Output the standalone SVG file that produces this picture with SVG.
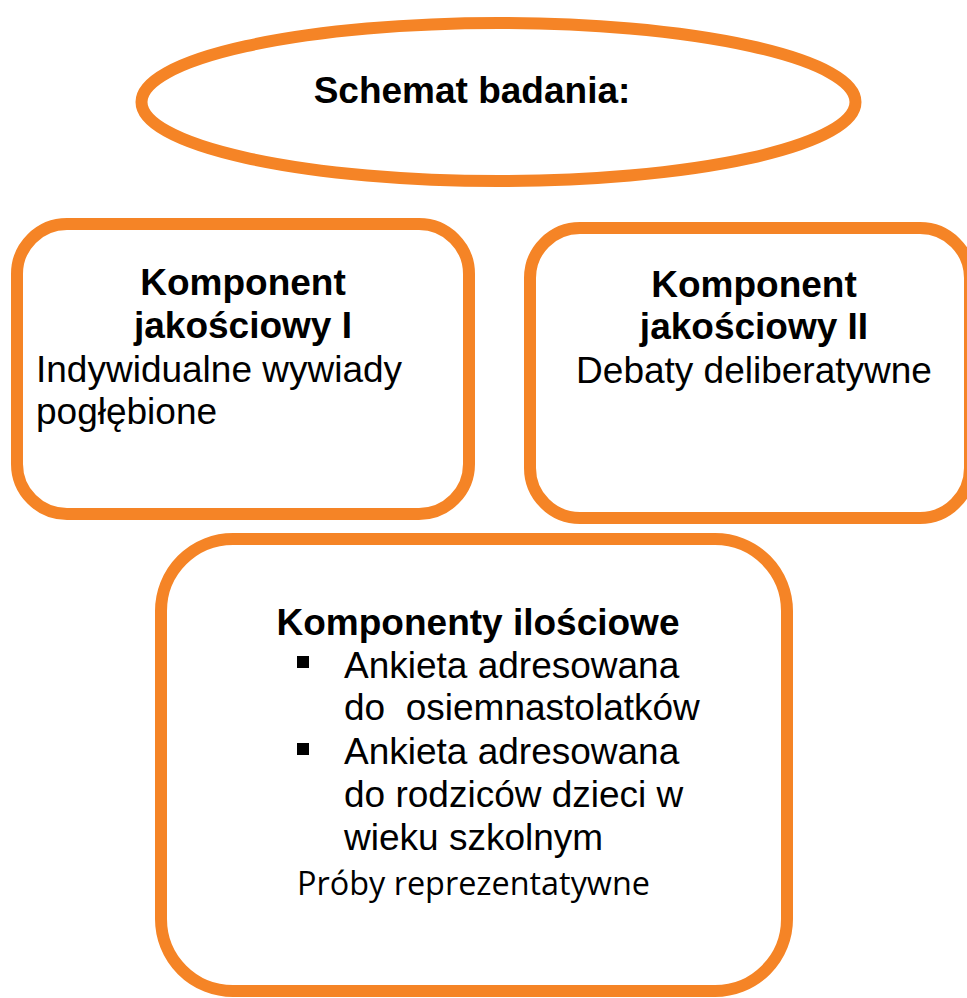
<svg xmlns="http://www.w3.org/2000/svg" width="967" height="998" viewBox="0 0 967 998">
<style>
.shape{fill:#ffffff;stroke:#F58426;stroke-width:12}
.t{font-family:"Liberation Sans",Arial,sans-serif;font-size:37px;fill:#000}
.b{font-weight:bold}
.c{text-anchor:middle}
.cal{font-family:"Open Sans","Noto Sans",sans-serif;font-size:32px;fill:#000}
</style>
<rect width="967" height="998" fill="#ffffff"/>
<g id="connectors"></g>
<g id="title">
<ellipse class="shape" cx="498.5" cy="102" rx="357" ry="79"/>
<text class="t b c" x="472" y="103">Schemat badania:</text>
</g>
<g id="komponent-jakosciowy-1">
<rect class="shape" x="17" y="224" width="452" height="290" rx="50" ry="50"/>
<text class="t b c" x="243" y="295">Komponent</text>
<text class="t b c" x="243" y="338">jakościowy I</text>
<text class="t" x="36" y="382">Indywidualne wywiady</text>
<text class="t" x="36" y="424">pogłębione</text>
</g>
<g id="komponent-jakosciowy-2">
<rect class="shape" x="530" y="228" width="440" height="290" rx="50" ry="50"/>
<text class="t b c" x="754" y="297">Komponent</text>
<text class="t b c" x="754" y="339">jakościowy II</text>
<text class="t c" x="754" y="383">Debaty deliberatywne</text>
</g>
<g id="komponenty-ilosciowe">
<rect class="shape" x="161" y="539" width="626" height="452" rx="72" ry="72"/>
<text class="t b c" x="478" y="635">Komponenty ilościowe</text>
<rect x="297" y="656" width="12" height="12" fill="#000"/>
<text class="t" x="344" y="678">Ankieta adresowana</text>
<text class="t" x="344" y="720" xml:space="preserve">do  osiemnastolatków</text>
<rect x="297" y="743" width="12" height="12" fill="#000"/>
<text class="t" x="344" y="764">Ankieta adresowana</text>
<text class="t" x="344" y="807">do rodziców dzieci w</text>
<text class="t" x="344" y="850">wieku szkolnym</text>
<text class="cal" x="297" y="895" textLength="353" lengthAdjust="spacingAndGlyphs">Próby reprezentatywne</text>
</g>
</svg>
